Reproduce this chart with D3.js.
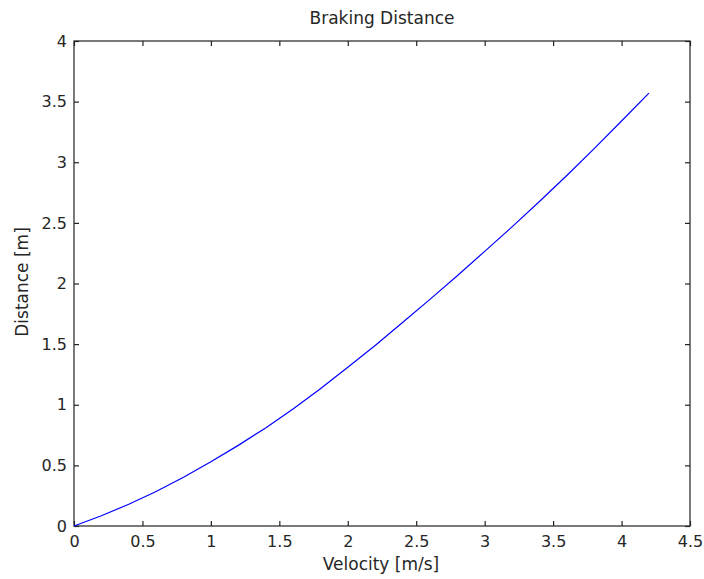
<!DOCTYPE html>
<html>
<head>
<meta charset="utf-8">
<script src="https://cdn.jsdelivr.net/npm/d3@7"></script>
<style>
  html, body { margin: 0; padding: 0; background: #fff; }
  svg text { font-family: "DejaVu Sans", "Liberation Sans", Arial, sans-serif; fill: #262626; }
</style>
</head>
<body>
<svg id="chart" width="704" height="579"></svg>
<script>
// Velocity [m/s] samples and the matching braking distance [m]
const velocity = [0, 0.2, 0.4, 0.6, 0.8, 1.0, 1.2, 1.4, 1.6, 1.8, 2.0, 2.2, 2.4, 2.6, 2.8, 3.0, 3.2, 3.4, 3.6, 3.8, 4.0, 4.2];
const distance = [0, 0.085, 0.179, 0.284, 0.402, 0.53, 0.665, 0.809, 0.965, 1.132, 1.31, 1.489, 1.678, 1.869, 2.064, 2.265, 2.467, 2.676, 2.891, 3.112, 3.34, 3.57];
const xTicks = [0, 0.5, 1, 1.5, 2, 2.5, 3, 3.5, 4, 4.5];
const yTicks = [0, 0.5, 1, 1.5, 2, 2.5, 3, 3.5, 4];

const svg = d3.select("#chart");
const plotLeft = 74, plotRight = 690, plotTop = 41, plotBottom = 526;

const x = d3.scaleLinear().domain([0, 4.5]).range([plotLeft, plotRight]);
const y = d3.scaleLinear().domain([0, 4]).range([plotBottom, plotTop]);

// plot box
svg.append("rect")
  .attr("x", plotLeft).attr("y", plotTop)
  .attr("width", plotRight - plotLeft).attr("height", plotBottom - plotTop)
  .attr("fill", "#fff").attr("stroke", "#222").attr("stroke-width", 1.2);

const fmt = d => String(d);
const tickLen = 5;

// bottom and top axes with inward ticks
const xb = svg.append("g").attr("transform", `translate(0,${plotBottom})`)
  .call(d3.axisBottom(x).tickValues(xTicks).tickFormat(fmt).tickSizeInner(-tickLen).tickSizeOuter(0).tickPadding(10));
const xt = svg.append("g").attr("transform", `translate(0,${plotTop})`)
  .call(d3.axisTop(x).tickValues(xTicks).tickFormat("").tickSizeInner(-tickLen).tickSizeOuter(0));
// left and right axes with inward ticks
const yl = svg.append("g").attr("transform", `translate(${plotLeft},0)`)
  .call(d3.axisLeft(y).tickValues(yTicks).tickFormat(fmt).tickSizeInner(-tickLen).tickSizeOuter(0).tickPadding(7));
const yr = svg.append("g").attr("transform", `translate(${plotRight},0)`)
  .call(d3.axisRight(y).tickValues(yTicks).tickFormat("").tickSizeInner(-tickLen).tickSizeOuter(0));

[xb, xt, yl, yr].forEach(g => {
  g.select(".domain").remove();
  g.selectAll(".tick line").attr("stroke", "#222").attr("stroke-width", 1.2);
  g.selectAll(".tick text").attr("font-size", 16).attr("fill", "#262626")
    .style("font-family", "'DejaVu Sans', 'Liberation Sans', Arial, sans-serif");
});

// braking distance curve
const line = d3.line().x((d, i) => x(velocity[i])).y(d => y(d));
svg.append("path")
  .datum(distance)
  .attr("d", line)
  .attr("fill", "none")
  .attr("stroke", "#0000ff")
  .attr("stroke-width", 1.2);

// title and axis labels
svg.append("text").attr("x", 382).attr("y", 24).attr("text-anchor", "middle")
  .attr("font-size", 17).text("Braking Distance");
svg.append("text").attr("x", 381).attr("y", 570).attr("text-anchor", "middle")
  .attr("font-size", 17).text("Velocity [m/s]");
svg.append("text").attr("transform", "translate(28,282) rotate(-90)").attr("text-anchor", "middle")
  .attr("font-size", 17).text("Distance [m]");
</script>
</body>
</html>
